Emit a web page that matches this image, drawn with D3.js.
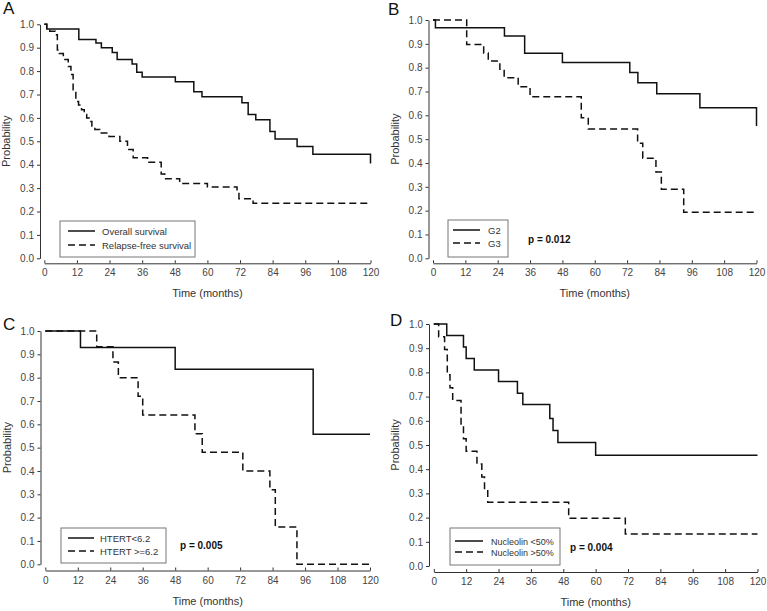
<!DOCTYPE html>
<html><head><meta charset="utf-8">
<script src="https://cdn.jsdelivr.net/npm/d3@7"></script>
<style>
body{margin:0;background:#fff}
svg{display:block}
text{font-family:"Liberation Sans",Arial,Helvetica,sans-serif}
</style></head>
<body><svg id="chart" width="767" height="611"></svg>
<script>
// ---------- data ----------
const xTicks = [0, 12, 24, 36, 48, 60, 72, 84, 96, 108, 120];
const yTicks = [0, 0.1, 0.2, 0.3, 0.4, 0.5, 0.6, 0.7, 0.8, 0.9, 1.0];

// Panel A
const aOverallT = [0, 0.9, 12.7, 19, 21, 25, 26.8, 32.3, 34, 36, 48.2, 55, 58, 72.7, 75, 77.8, 83, 84.9, 93, 98.8, 120];
const aOverallS = [1, 0.98, 0.935, 0.92, 0.90, 0.88, 0.85, 0.83, 0.795, 0.775, 0.755, 0.712, 0.69, 0.665, 0.615, 0.592, 0.542, 0.51, 0.478, 0.445, 0.405];
const aRelapseT = [0, 0.9, 2, 4, 4.8, 5.5, 7, 8.8, 9.8, 10.6, 11.6, 12.6, 13.7, 14.7, 15.6, 16.5, 17.5, 18.6, 20.4, 23.8, 27.8, 30.6, 32.7, 38, 43, 44.3, 49.8, 60, 70.9, 71.6, 76.8, 120];
const aRelapseS = [1, 0.98, 0.97, 0.955, 0.89, 0.875, 0.85, 0.82, 0.785, 0.72, 0.67, 0.655, 0.635, 0.615, 0.60, 0.585, 0.565, 0.55, 0.535, 0.52, 0.50, 0.465, 0.43, 0.41, 0.36, 0.34, 0.32, 0.305, 0.285, 0.255, 0.235, 0.235];

// Panel B
const bG2T = [0, 0.9, 26.5, 34, 48, 73, 76, 83, 99, 120];
const bG2S = [1, 0.967, 0.933, 0.86, 0.822, 0.78, 0.737, 0.69, 0.632, 0.555];
const bG3T = [0, 12.5, 18.8, 20.5, 24.8, 26.4, 31.6, 36, 55, 57.6, 75.9, 77.8, 82.7, 84.7, 93, 120];
const bG3S = [1, 0.897, 0.862, 0.828, 0.793, 0.758, 0.72, 0.678, 0.59, 0.543, 0.483, 0.42, 0.362, 0.29, 0.193, 0.193];

// Panel C
const cLowT = [0, 13, 48, 99, 120];
const cLowS = [1, 0.929, 0.836, 0.557, 0.557];
const cHighT = [0, 19, 25, 27, 34.3, 36, 55.3, 58, 73, 83, 85, 93, 120];
const cHighS = [1, 0.933, 0.867, 0.8, 0.72, 0.64, 0.56, 0.48, 0.4, 0.32, 0.16, 0, 0];

// Panel D
const dLowT = [0, 4.8, 11, 12, 15, 24, 31, 33, 43, 44.2, 46, 60, 120];
const dLowS = [1, 0.952, 0.905, 0.857, 0.81, 0.762, 0.714, 0.667, 0.61, 0.56, 0.51, 0.458, 0.458];
const dHighT = [0, 1.8, 4, 5, 6, 7, 10.1, 11, 12, 16, 17.8, 18.8, 20, 50, 71, 120];
const dHighS = [1, 0.947, 0.895, 0.79, 0.737, 0.684, 0.579, 0.526, 0.474, 0.421, 0.368, 0.316, 0.263, 0.197, 0.132, 0.132];

const legendA = ["Overall survival", "Relapse-free survival"];
const legendB = ["G2", "G3"];
const legendC = ["HTERT<6.2", "HTERT >=6.2"];
const legendD = ["Nucleolin <50%", "Nucleolin >50%"];
const pValues = [null, "p = 0.012", "p = 0.005", "p = 0.004"];

// ---------- layout ----------
const panels = [
  {letter:"A", lx:3, ly:14, x0:44.3, x1:370.5, yTop:24.3, yBot:258.3, yAxisX:40, xAxisY:263.3,
   series:[[aOverallT,aOverallS,false],[aRelapseT,aRelapseS,true]], legend:legendA,
   box:{x:60, y:221, w:135, h:36, r1:231, r2:245, lx0:68, lx1:95, tx:102, fs:9.5}, p:pValues[0]},
  {letter:"B", lx:388, ly:15, x0:433, x1:756.5, yTop:20, yBot:258.3, yAxisX:428.5, xAxisY:263.3,
   series:[[bG2T,bG2S,false],[bG3T,bG3S,true]], legend:legendB,
   box:{x:448, y:220, w:60, h:37, r1:230, r2:243, lx0:453, lx1:480, tx:488, fs:9.5}, p:pValues[1], px:528, py:243},
  {letter:"C", lx:3, ly:330, x0:45.3, x1:370, yTop:331, yBot:564.3, yAxisX:40.5, xAxisY:570.5,
   series:[[cLowT,cLowS,false],[cHighT,cHighS,true]], legend:legendC,
   box:{x:61, y:528, w:105, h:35, r1:538, r2:551, lx0:68, lx1:94, tx:100, fs:9.5}, p:pValues[2], px:180, py:549},
  {letter:"D", lx:390, ly:326, x0:433.8, x1:757.5, yTop:324, yBot:566, yAxisX:429, xAxisY:572,
   series:[[dLowT,dLowS,false],[dHighT,dHighS,true]], legend:legendD,
   box:{x:450, y:528, w:110, h:37, r1:541, r2:552, lx0:455, lx1:483, tx:491, fs:9}, p:pValues[3], px:570, py:551}
];

const svg = d3.select("#chart");
const fmt = d3.format(".1f");

panels.forEach(P => {
  const g = svg.append("g");
  const x = d3.scaleLinear().domain([0,120]).range([P.x0, P.x1]);
  const y = d3.scaleLinear().domain([0,1]).range([P.yBot, P.yTop]);

  g.append("text").attr("x", P.lx).attr("y", P.ly).attr("font-size", 17).attr("fill", "#111").text(P.letter);

  const ya = g.append("g").attr("transform", `translate(${P.yAxisX},0)`)
    .call(d3.axisLeft(y).tickValues(yTicks).tickFormat(fmt).tickSize(3).tickSizeOuter(0).tickPadding(3));
  ya.attr("font-family", null);
  ya.select(".domain").attr("stroke", "#333");
  ya.selectAll(".tick line").attr("stroke", "#333");
  ya.selectAll(".tick text").attr("font-size", 10).attr("fill", "#444");

  const xa = g.append("g").attr("transform", `translate(0,${P.xAxisY})`)
    .call(d3.axisBottom(x).tickValues(xTicks).tickSize(-3).tickSizeOuter(0).tickPadding(6));
  xa.attr("font-family", null);
  xa.select(".domain").attr("stroke", "#333");
  xa.selectAll(".tick line").attr("stroke", "#333");
  xa.selectAll(".tick text").attr("font-size", 10).attr("fill", "#444");

  g.append("text").attr("x", (P.x0 + P.x1) / 2).attr("y", P.xAxisY + 34)
    .attr("text-anchor", "middle").attr("font-size", 11).attr("fill", "#333").text("Time (months)");
  g.append("text").attr("transform", `translate(${P.yAxisX - 30},${(P.yTop + P.yBot) / 2}) rotate(-90)`)
    .attr("text-anchor", "middle").attr("font-size", 11).attr("fill", "#333").text("Probability");

  const line = d3.line().x(d => x(d[0])).y(d => y(d[1])).curve(d3.curveStepAfter);
  P.series.forEach(([T, S, dashed]) => {
    const pts = T.map((t, i) => [t, S[i]]);
    g.append("path").datum(pts).attr("d", line).attr("fill", "none")
      .attr("stroke", "#111").attr("stroke-width", 1.5)
      .attr("stroke-dasharray", dashed ? "7,4" : null);
  });

  const b = P.box;
  g.append("rect").attr("x", b.x).attr("y", b.y).attr("width", b.w).attr("height", b.h)
    .attr("fill", "#fff").attr("stroke", "#777").attr("stroke-width", 1);
  [b.r1, b.r2].forEach((ry, i) => {
    g.append("line").attr("x1", b.lx0).attr("x2", b.lx1).attr("y1", ry).attr("y2", ry)
      .attr("stroke", "#111").attr("stroke-width", 1.5)
      .attr("stroke-dasharray", i === 1 ? "7,4" : null);
    g.append("text").attr("x", b.tx).attr("y", ry + 3.5).attr("font-size", b.fs).attr("fill", "#333").text(P.legend[i]);
  });

  if (P.p) {
    g.append("text").attr("x", P.px).attr("y", P.py).attr("font-size", 10).attr("font-weight", "bold")
      .attr("fill", "#111").text(P.p);
  }
});
</script></body></html>
